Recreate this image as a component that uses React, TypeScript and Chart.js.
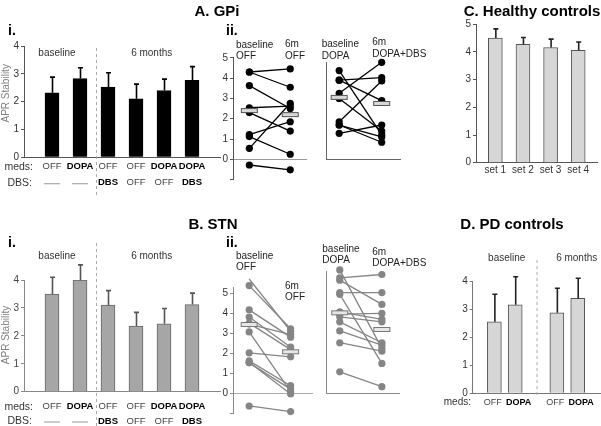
import React, { useEffect, useRef } from "react";
import { Chart, registerables } from "chart.js";
Chart.register(...registerables);

const W = 601;
const H = 426;
const FONT = "'Liberation Sans', Arial, Helvetica, sans-serif";
const YW = 22; // width reserved for y tick labels

// ---------- A.i GPi group bars ----------
const gpiMeds = ["OFF", "DOPA", "OFF", "OFF", "DOPA", "DOPA"];
const gpiDbs = ["—", "—", "DBS", "OFF", "OFF", "DBS"];
const gpiMeans = [2.32, 2.83, 2.52, 2.1, 2.4, 2.77];
const gpiSem = [0.56, 0.39, 0.52, 0.53, 0.41, 0.49];

// ---------- B.i STN group bars ----------
const stnMeds = ["OFF", "DOPA", "OFF", "OFF", "DOPA", "DOPA"];
const stnDbs = ["—", "—", "DBS", "OFF", "OFF", "DBS"];
const stnMeans = [3.5, 4.0, 3.1, 2.35, 2.43, 3.12];
const stnSem = [0.6, 0.54, 0.52, 0.49, 0.55, 0.41];

// ---------- C. Healthy controls ----------
const hcSets = ["set 1", "set 2", "set 3", "set 4"];
const hcMeans = [4.5, 4.27, 4.16, 4.06];
const hcSem = [0.33, 0.25, 0.3, 0.3];

// ---------- D. PD controls ----------
const pdMeds = ["OFF", "DOPA", "", "OFF", "DOPA"];
const pdMeans: (number | null)[] = [2.55, 3.15, null, 2.87, 3.38];
const pdSem: (number | null)[] = [0.98, 1.0, null, 0.87, 0.72];

// ---------- A.ii GPi individual subjects ----------
const gpiOffBase = [4.3, 4.3, 3.63, 2.54, 2.3, 1.22, 1.12, 0.54, -0.28];
const gpiOff6m = [4.45, 3.55, 2.5, 2.62, 1.39, 1.85, 0.25, 2.76, -0.52];
const gpiOffMedian = [2.4, 2.2];
const gpiDopaBase = [4.37, 3.9, 3.9, 3.25, 3.0, 1.85, 1.69, 1.69, 1.28];
const gpiDopaDbs = [1.2, 4.02, 2.89, 4.78, 1.39, 3.86, 1.1, 0.84, 1.69];
const gpiDopaMedian = [3.05, 2.75];

// ---------- B.ii STN individual subjects ----------
const stnOffBase = [5.7, 5.37, 4.16, 3.8, 3.5, 3.45, 3.06, 2.02, 1.62, 1.55, 1.52, -0.63];
const stnOff6m = [3.1, 3.22, 2.8, 2.3, 2.18, 2.93, 0.08, 1.82, 0.38, -0.03, 0.21, -0.91];
const stnOffMedian = [3.43, 2.07];
const stnDopaBase = [6.15, 5.75, 5.64, 5.02, 4.93, 4.06, 3.95, 3.81, 3.56, 3.11, 2.52, 1.07];
const stnDopaDbs = [2.24, 5.92, 4.43, 5.02, 1.49, 3.68, 3.98, 3.56, 2.52, 2.4, 2.1, 0.33];
const stnDopaMedian = [4.01, 3.18];

function pad(l: number, t: number, r: number, b: number, yw: number) {
  return { left: l - yw, top: t, right: W - r, bottom: H - b };
}

function rowLabels(
  ctx: CanvasRenderingContext2D,
  xs: any,
  labels: string[],
  y: number,
  size: number,
  shift: (lab: string) => number = () => 0
) {
  labels.forEach((lab, i) => {
    if (lab === "") return;
    const x = xs.getPixelForValue(i);
    if (lab === "—") {
      ctx.save();
      ctx.strokeStyle = "#aaa";
      ctx.lineWidth = 1.2;
      ctx.beginPath();
      ctx.moveTo(x - 8, y + 1);
      ctx.lineTo(x + 8, y + 1);
      ctx.stroke();
      ctx.restore();
      return;
    }
    const bold = lab === "DOPA" || lab === "DBS";
    ctx.font = `${bold ? "bold " : ""}${size}px ${FONT}`;
    ctx.fillStyle = bold ? "#000" : "#444";
    ctx.textAlign = "center";
    ctx.textBaseline = "middle";
    ctx.fillText(lab, x + shift(lab), y);
  });
}

function dashedV(ctx: CanvasRenderingContext2D, x: number, y1: number, y2: number) {
  ctx.save();
  ctx.strokeStyle = "#aaa";
  ctx.lineWidth = 1;
  ctx.setLineDash([3, 3]);
  ctx.beginPath();
  ctx.moveTo(x, y1);
  ctx.lineTo(x, y2);
  ctx.stroke();
  ctx.restore();
}

type BarCfg = {
  area: [number, number, number, number];
  xmin: number;
  xmax: number;
  ymax: number;
  values: (number | null)[];
  sems: (number | null)[];
  fill: string;
  border: string;
  errColor: string;
  axisColor: string;
  tickColor: string;
  after: (chart: any) => void;
};

function makeBar(canvas: HTMLCanvasElement, cfg: BarCfg) {
  return new Chart(canvas, {
    type: "bar",
    data: {
      datasets: [
        {
          data: cfg.values.map((v, i) => ({ x: i, y: v })) as any,
          backgroundColor: cfg.fill,
          borderColor: cfg.border,
          borderWidth: 1,
          barThickness: 14,
        },
      ],
    },
    options: {
      animation: false,
      responsive: false,
      events: [],
      layout: { padding: pad(...cfg.area, YW) },
      plugins: { legend: { display: false }, tooltip: { enabled: false }, title: { display: false } },
      scales: {
        x: {
          type: "linear",
          min: cfg.xmin,
          max: cfg.xmax,
          offset: false,
          grid: { display: false },
          ticks: { display: false },
          border: { display: true, color: cfg.axisColor, width: 1 },
          afterFit: (s: any) => {
            s.height = 0;
          },
        },
        y: {
          min: 0,
          max: cfg.ymax,
          ticks: { stepSize: 1, font: { family: FONT, size: 10 }, color: cfg.tickColor, padding: 2, includeBounds: false },
          grid: { drawOnChartArea: false, drawTicks: true, tickLength: 3, color: cfg.axisColor },
          border: { display: true, color: cfg.axisColor, width: 1 },
          afterFit: (s: any) => {
            s.width = YW;
          },
        },
      } as any,
    },
    plugins: [
      {
        id: "errbars",
        afterDatasetsDraw(chart: any) {
          const ctx = chart.ctx as CanvasRenderingContext2D;
          const xs = chart.scales.x;
          const ys = chart.scales.y;
          ctx.save();
          ctx.strokeStyle = cfg.errColor;
          ctx.lineWidth = 1.6;
          cfg.values.forEach((v, i) => {
            const e = cfg.sems[i];
            if (v == null || e == null) return;
            const x = xs.getPixelForValue(i) + 0.5;
            const y0 = ys.getPixelForValue(v);
            const y1 = ys.getPixelForValue(v + e);
            ctx.beginPath();
            ctx.moveTo(x, y0);
            ctx.lineTo(x, y1);
            ctx.moveTo(x - 2.5, y1);
            ctx.lineTo(x + 2.5, y1);
            ctx.stroke();
          });
          ctx.restore();
          cfg.after(chart);
        },
      },
    ],
  });
}

type PairCfg = {
  area: [number, number, number, number];
  xmin: number;
  xmax: number;
  ymin: number;
  ymax: number;
  base: number[];
  follow: number[];
  medians: number[];
  color: string;
  axisColor: string;
  zeroColor: string;
  medFill: string;
  medStroke: string;
  showTicks: boolean;
};

function makePairs(canvas: HTMLCanvasElement, cfg: PairCfg) {
  const yw = cfg.showTicks ? YW : 0;
  const datasets = cfg.base.map((b, i) => ({
    data: [
      { x: 0, y: b },
      { x: 1, y: cfg.follow[i] },
    ],
    borderColor: cfg.color,
    borderWidth: 1.3,
    pointRadius: 3.6,
    pointBackgroundColor: cfg.color,
    pointBorderColor: cfg.color,
    pointBorderWidth: 0,
    clip: false as any,
  }));
  return new Chart(canvas, {
    type: "line",
    data: { datasets: datasets as any },
    options: {
      animation: false,
      responsive: false,
      events: [],
      layout: { padding: pad(...cfg.area, yw) },
      plugins: { legend: { display: false }, tooltip: { enabled: false }, title: { display: false } },
      scales: {
        x: {
          type: "linear",
          min: cfg.xmin,
          max: cfg.xmax,
          grid: { display: false },
          ticks: { display: false },
          border: { display: !cfg.showTicks, color: cfg.axisColor, width: 1 },
          afterFit: (s: any) => {
            s.height = 0;
          },
        },
        y: {
          min: cfg.ymin,
          max: cfg.ymax,
          ticks: {
            display: cfg.showTicks,
            stepSize: 1,
            includeBounds: false,
            font: { family: FONT, size: 10 },
            color: "#333",
            padding: 2,
            callback: (v: any) => (Number(v) >= 0 ? String(v) : ""),
          },
          grid: {
            display: cfg.showTicks,
            drawTicks: true,
            tickLength: 3,
            tickColor: cfg.axisColor,
            color: (c: any) => (c.tick && c.tick.value === 0 ? cfg.zeroColor : "rgba(0,0,0,0)"),
            lineWidth: 1,
          },
          border: { display: true, color: cfg.axisColor, width: 1 },
          afterFit: (s: any) => {
            s.width = yw;
          },
        },
      } as any,
    },
    plugins: [
      {
        id: "medians",
        afterDatasetsDraw(chart: any) {
          const ctx = chart.ctx as CanvasRenderingContext2D;
          const xs = chart.scales.x;
          const ys = chart.scales.y;
          ctx.save();
          cfg.medians.forEach((m, i) => {
            const x = xs.getPixelForValue(i);
            const y = ys.getPixelForValue(m);
            ctx.fillStyle = cfg.medFill;
            ctx.strokeStyle = cfg.medStroke;
            ctx.lineWidth = 1;
            ctx.fillRect(x - 8, y - 2, 16, 4);
            ctx.strokeRect(x - 8, y - 2, 16, 4);
          });
          ctx.restore();
        },
      },
    ],
  });
}

function drawAnnotations(canvas: HTMLCanvasElement) {
  const ctx = canvas.getContext("2d");
  if (!ctx) return;
  ctx.clearRect(0, 0, W, H);
  const t = (s: string, x: number, y: number, size: number, bold = false, color = "#222", align: CanvasTextAlign = "left") => {
    ctx.font = `${bold ? "bold " : ""}${size}px ${FONT}`;
    ctx.fillStyle = color;
    ctx.textAlign = align;
    ctx.textBaseline = "middle";
    ctx.fillText(s, x, y);
  };
  // titles
  t("A. GPi", 217, 12, 15, true, "#000", "center");
  t("C. Healthy controls", 532, 12, 15, true, "#000", "center");
  t("B. STN", 213, 225, 15, true, "#000", "center");
  t("D. PD controls", 512, 225, 15, true, "#000", "center");
  t("i.", 8, 31.5, 14, true, "#000");
  t("i.", 8, 243.5, 14, true, "#000");
  t("ii.", 226, 31.5, 14, true, "#000");
  t("ii.", 226, 243.3, 14, true, "#000");
  // group headers
  t("baseline", 57, 53.3, 10, false, "#333", "center");
  t("6 months", 151.7, 53.3, 10, false, "#333", "center");
  t("baseline", 57, 256.7, 10, false, "#333", "center");
  t("6 months", 151.7, 256.7, 10, false, "#333", "center");
  t("baseline", 506.7, 258.3, 10, false, "#333", "center");
  t("6 months", 576.7, 258.3, 10, false, "#333", "center");
  // row headers
  t("meds:", 33, 166.7, 10.5, false, "#333", "right");
  t("DBS:", 32, 182.7, 10.5, false, "#333", "right");
  t("meds:", 33, 406.7, 10.5, false, "#333", "right");
  t("DBS:", 32, 421, 10.5, false, "#333", "right");
  t("meds:", 471, 402.7, 10, false, "#333", "right");
  // A.ii labels
  t("baseline", 236, 45.7, 10, false, "#222");
  t("OFF", 236, 56, 10, false, "#222");
  t("6m", 285, 44.3, 10, false, "#222");
  t("OFF", 285, 56, 10, false, "#222");
  t("baseline", 321.7, 44.3, 10, false, "#222");
  t("DOPA", 321.7, 56, 10, false, "#222");
  t("6m", 372.3, 42.7, 10, false, "#222");
  t("DOPA+DBS", 372.3, 54, 10, false, "#222");
  // B.ii labels
  t("baseline", 236, 256.7, 10, false, "#222");
  t("OFF", 236, 267.3, 10, false, "#222");
  t("6m", 285, 286, 10, false, "#222");
  t("OFF", 285, 297.3, 10, false, "#222");
  t("baseline", 322.3, 249.3, 10, false, "#222");
  t("DOPA", 322.3, 260, 10, false, "#222");
  t("6m", 372.3, 252.7, 10, false, "#222");
  t("DOPA+DBS", 372.3, 263.3, 10, false, "#222");
  // rotated y titles
  const rot = (s: string, x: number, y: number) => {
    ctx.save();
    ctx.translate(x, y);
    ctx.rotate(-Math.PI / 2);
    ctx.font = `10px ${FONT}`;
    ctx.fillStyle = "#808080";
    ctx.textAlign = "center";
    ctx.textBaseline = "middle";
    ctx.fillText(s, 0, 0);
    ctx.restore();
  };
  rot("APR Stability", 6, 93.3);
  rot("APR Stability", 6, 335);
}

export default function App() {
  const refs = useRef<(HTMLCanvasElement | null)[]>([]);
  useEffect(() => {
    const c = refs.current as HTMLCanvasElement[];
    const charts: Chart[] = [];

    // A.i GPi
    charts.push(
      makeBar(c[0], {
        area: [24, 46, 220, 157.3],
        xmin: -1,
        xmax: 6,
        ymax: 4,
        values: gpiMeans,
        sems: gpiSem,
        fill: "#000",
        border: "#000",
        errColor: "#000",
        axisColor: "#555",
        tickColor: "#333",
        after: (chart) => {
          const ctx = chart.ctx;
          const xs = chart.scales.x;
          rowLabels(ctx, xs, gpiMeds, 166.7, 9.5);
          rowLabels(ctx, xs, gpiDbs, 182.7, 9.5);
          dashedV(ctx, (xs.getPixelForValue(1) + xs.getPixelForValue(2)) / 2 + 2.5, 48, 195);
        },
      })
    );

    // B.i STN
    charts.push(
      makeBar(c[1], {
        area: [24, 280, 220, 391.7],
        xmin: -1,
        xmax: 6,
        ymax: 4,
        values: stnMeans,
        sems: stnSem,
        fill: "#a6a6a6",
        border: "#666",
        errColor: "#555",
        axisColor: "#888",
        tickColor: "#444",
        after: (chart) => {
          const ctx = chart.ctx;
          const xs = chart.scales.x;
          rowLabels(ctx, xs, stnMeds, 406.7, 9.5);
          rowLabels(ctx, xs, stnDbs, 421, 9.5);
          dashedV(ctx, (xs.getPixelForValue(1) + xs.getPixelForValue(2)) / 2 + 2.5, 243, 426);
        },
      })
    );

    // C healthy controls
    charts.push(
      makeBar(c[2], {
        area: [476, 24.2, 597, 162.7],
        xmin: -0.7,
        xmax: 3.68,
        ymax: 5,
        values: hcMeans,
        sems: hcSem,
        fill: "#d6d6d6",
        border: "#555",
        errColor: "#222",
        axisColor: "#555",
        tickColor: "#333",
        after: (chart) => {
          const ctx = chart.ctx;
          const xs = chart.scales.x;
          ctx.font = `10px ${FONT}`;
          ctx.fillStyle = "#333";
          ctx.textAlign = "center";
          ctx.textBaseline = "middle";
          hcSets.forEach((s, i) => ctx.fillText(s, xs.getPixelForValue(i), 170.7));
        },
      })
    );

    // D PD controls
    charts.push(
      makeBar(c[3], {
        area: [472.7, 281, 600, 393.3],
        xmin: -1.04,
        xmax: 5.07,
        ymax: 4,
        values: pdMeans,
        sems: pdSem,
        fill: "#d6d6d6",
        border: "#555",
        errColor: "#222",
        axisColor: "#777",
        tickColor: "#333",
        after: (chart) => {
          const ctx = chart.ctx;
          const xs = chart.scales.x;
          rowLabels(ctx, xs, pdMeds, 402.7, 9, (lab) => (lab === "DOPA" ? 3.5 : -1.5));
          dashedV(ctx, xs.getPixelForValue(2) + 1, 260, 397);
        },
      })
    );

    // A.ii GPi OFF
    charts.push(
      makePairs(c[4], {
        area: [233, 57.8, 307, 179.6],
        xmin: -0.4,
        xmax: 1.41,
        ymin: -1,
        ymax: 5,
        base: gpiOffBase,
        follow: gpiOff6m,
        medians: gpiOffMedian,
        color: "#000",
        axisColor: "#555",
        zeroColor: "#999",
        medFill: "#d8d8d8",
        medStroke: "#555",
        showTicks: true,
      })
    );
    // A.ii GPi DOPA
    charts.push(
      makePairs(c[5], {
        area: [326, 62.9, 400, 159.3],
        xmin: -0.31,
        xmax: 1.43,
        ymin: 0,
        ymax: 4.75,
        base: gpiDopaBase,
        follow: gpiDopaDbs,
        medians: gpiDopaMedian,
        color: "#000",
        axisColor: "#666",
        zeroColor: "#999",
        medFill: "#d8d8d8",
        medStroke: "#555",
        showTicks: false,
      })
    );
    // B.ii STN OFF
    charts.push(
      makePairs(c[6], {
        area: [233, 287, 313, 413.4],
        xmin: -0.39,
        xmax: 1.54,
        ymin: -1,
        ymax: 5.3,
        base: stnOffBase,
        follow: stnOff6m,
        medians: stnOffMedian,
        color: "#858585",
        axisColor: "#888",
        zeroColor: "#aaa",
        medFill: "#e6e6e6",
        medStroke: "#777",
        showTicks: true,
      })
    );
    // B.ii STN DOPA
    charts.push(
      makePairs(c[7], {
        area: [326.7, 271.7, 400, 393.3],
        xmin: -0.31,
        xmax: 1.43,
        ymin: 0,
        ymax: 6.06,
        base: stnDopaBase,
        follow: stnDopaDbs,
        medians: stnDopaMedian,
        color: "#858585",
        axisColor: "#888",
        zeroColor: "#aaa",
        medFill: "#e6e6e6",
        medStroke: "#777",
        showTicks: false,
      })
    );

    drawAnnotations(c[8]);

    return () => {
      charts.forEach((ch) => ch.destroy());
    };
  }, []);

  return (
    <div style={{ position: "fixed", left: 0, top: 0, width: W, height: H, background: "#fff", overflow: "hidden" }}>
      {Array.from({ length: 9 }).map((_, i) => (
        <canvas
          key={i}
          ref={(el) => {
            refs.current[i] = el;
          }}
          width={W}
          height={H}
          style={{ position: "absolute", left: 0, top: 0, width: W, height: H }}
        />
      ))}
    </div>
  );
}
